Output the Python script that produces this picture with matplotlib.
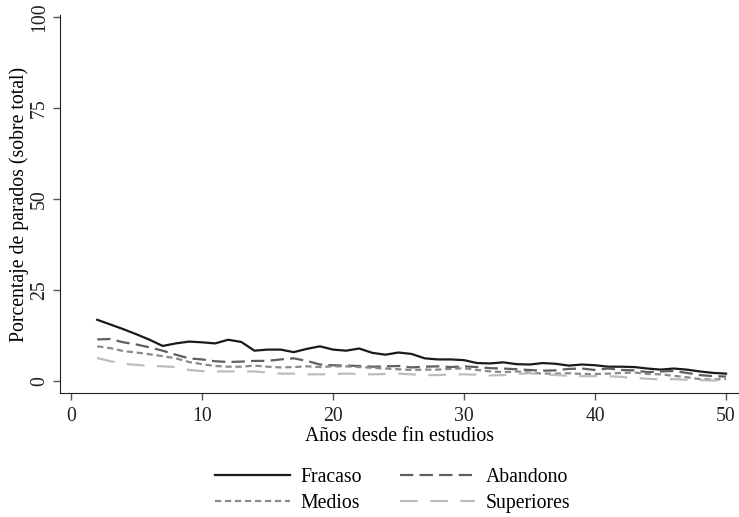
import matplotlib
matplotlib.use('Agg')
import matplotlib.pyplot as plt

plt.rcParams['font.family'] = ['Liberation Serif', 'DejaVu Serif']

# años desde fin de estudios
years = list(range(2, 51))

fracaso = [16.8, 15.5, 14.2, 12.8, 11.3, 9.6, 10.3, 10.8, 10.6, 10.3,
           11.3, 10.7, 8.3, 8.6, 8.6, 7.9, 8.8, 9.5, 8.6, 8.3,
           8.9, 7.7, 7.2, 7.8, 7.4, 6.2, 5.9, 5.9, 5.7, 4.9,
           4.8, 5.1, 4.6, 4.5, 4.9, 4.7, 4.2, 4.5, 4.3, 3.9,
           3.9, 3.8, 3.4, 3.1, 3.4, 3.1, 2.6, 2.2, 2.0]
abandono = [11.4, 11.5, 10.6, 10.0, 9.2, 8.3, 7.2, 6.2, 5.9, 5.4,
            5.2, 5.3, 5.5, 5.5, 5.9, 6.2, 5.5, 4.5, 4.3, 4.2,
            4.1, 3.9, 4.0, 4.1, 3.7, 3.9, 4.0, 3.8, 4.0, 3.8,
            3.5, 3.4, 3.2, 3.0, 2.8, 2.9, 3.3, 3.4, 3.0, 3.4,
            3.0, 2.9, 2.4, 2.6, 2.7, 2.2, 1.6, 1.3, 1.2]
medios = [9.5, 9.0, 8.2, 7.8, 7.3, 6.8, 6.2, 5.2, 4.6, 4.1,
          3.9, 3.9, 4.2, 3.9, 3.7, 3.8, 4.0, 3.8, 4.0, 4.0,
          3.8, 3.6, 3.4, 3.2, 3.0, 3.1, 3.1, 3.3, 3.5, 3.0,
          2.6, 2.4, 2.6, 2.3, 2.0, 2.0, 2.1, 1.9, 1.9, 2.0,
          2.2, 2.3, 1.9, 1.8, 1.4, 1.0, 0.5, 0.4, 0.5]
superiores = [6.3, 5.4, 4.7, 4.4, 4.1, 4.0, 3.8, 3.0, 2.7, 2.6,
              2.6, 2.6, 2.6, 2.3, 2.0, 2.0, 1.8, 1.8, 1.9, 2.0,
              1.9, 1.8, 1.9, 2.0, 1.8, 1.6, 1.6, 1.8, 1.8, 1.7,
              1.5, 1.6, 1.9, 2.1, 1.8, 1.6, 1.4, 1.3, 1.3, 1.3,
              1.1, 0.8, 0.6, 0.4, 0.5, 0.3, 0.2, 0.1, 0.2]

xticks = [0, 10, 20, 30, 40, 50]
yticks = [0, 25, 50, 75, 100]

fig = plt.figure(figsize=(7.39, 5.17), dpi=100)
ax = fig.add_axes([0.0812, 0.240, 0.919, 0.731])

ax.plot(years, fracaso, color='#1a1a1a', lw=1.6, label='Fracaso')
ax.plot(years, abandono, color='#5f5f5f', lw=1.6, dashes=(6.0, 2.8), label='Abandono')
ax.plot(years, medios, color='#8a8a8a', lw=1.6, dashes=(2.8, 1.7), label='Medios')
ax.plot(years, superiores, color='#bdbdbd', lw=1.6, dashes=(8.0, 5.6), label='Superiores')

ax.set_xlim(-0.84, 51.0)
ax.set_ylim(-3.3, 100.5)
ax.set_xticks(xticks)
ax.set_yticks(yticks)
ax.set_yticklabels([str(t) for t in yticks], rotation=90, va='center')
ax.tick_params(direction='out', length=5, width=1, labelsize=14.2,
               color='#555555', labelcolor='#222222')
ax.tick_params(axis='x', pad=5)
ax.tick_params(axis='y', pad=3)
for s in ['top', 'right']:
    ax.spines[s].set_visible(False)
for s in ['left', 'bottom']:
    ax.spines[s].set_color('#222222')

ax.set_xlabel('Años desde fin estudios', fontsize=14.2, labelpad=1)
ax.set_ylabel('Porcentaje de parados (sobre total)', fontsize=14.2, labelpad=1)

handles, labels = ax.get_legend_handles_labels()
order = [0, 2, 1, 3]
fig.legend([handles[i] for i in order], [labels[i] for i in order],
           loc='center', bbox_to_anchor=(0.531, 0.052), ncol=2, frameon=False,
           fontsize=14.2, handlelength=3.8, columnspacing=1.9, handletextpad=0.55,
           labelspacing=0.35)

plt.savefig('out.png', dpi=100)
